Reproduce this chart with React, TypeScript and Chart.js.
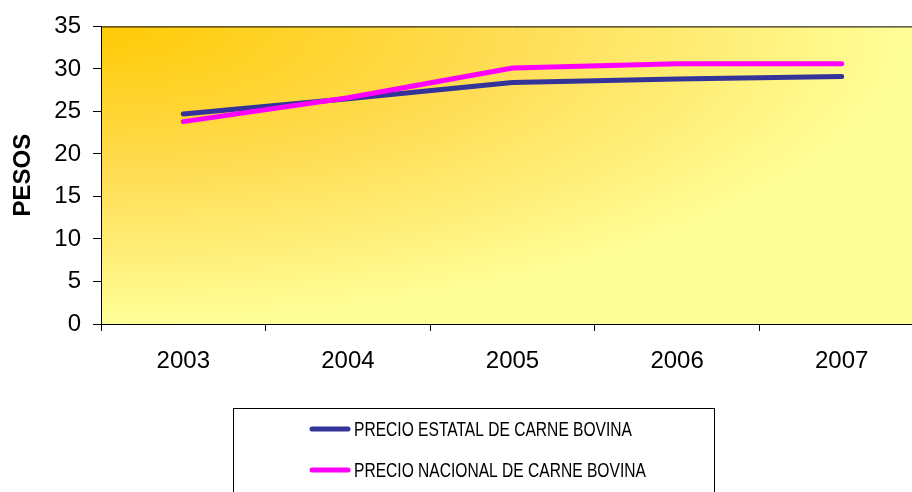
import React, { useEffect, useRef } from "react";
import { Chart, registerables } from "chart.js";

Chart.register(...registerables);

const years = ["2003", "2004", "2005", "2006", "2007"];
const estatal = [24.7, 26.5, 28.4, 28.8, 29.1];
const nacional = [23.8, 26.6, 30.1, 30.6, 30.6];
const labelEstatal = "PRECIO ESTATAL DE CARNE BOVINA";
const labelNacional = "PRECIO NACIONAL DE CARNE BOVINA";
const yTitle = "PESOS";

const FONT = "'Liberation Sans', Arial, sans-serif";

const bgPlugin = {
  id: "bgGradient",
  beforeDraw(chart: any) {
    const { ctx, chartArea } = chart;
    const { left, top, right, bottom } = chartArea;
    const rx = 820;
    const ry = 300;
    ctx.save();
    ctx.translate(left, top);
    ctx.scale(rx, ry);
    const g = ctx.createRadialGradient(0, 0, 0, 0, 0, 1);
    g.addColorStop(0, "#FFCA05");
    g.addColorStop(0.5, "#FFDD55");
    g.addColorStop(1, "#FFFF99");
    ctx.fillStyle = g;
    ctx.fillRect(0, 0, (right - left) / rx, (bottom - top) / ry);
    ctx.restore();
  },
  afterDatasetsDraw(chart: any) {
    const { ctx, chartArea } = chart;
    ctx.save();
    ctx.strokeStyle = "#000";
    ctx.lineWidth = 1;
    ctx.beginPath();
    ctx.moveTo(chartArea.left, chartArea.top + 0.5);
    ctx.lineTo(chartArea.right, chartArea.top + 0.5);
    ctx.lineTo(chartArea.right, chartArea.bottom);
    ctx.stroke();
    ctx.restore();
  },
};

const legendPlugin = {
  id: "boxLegend",
  afterDraw(chart: any) {
    const { ctx } = chart;
    const ds = chart.data.datasets;
    ctx.save();
    ctx.strokeStyle = "#000";
    ctx.lineWidth = 1;
    ctx.strokeRect(233.5, 408.5, 481, 200);
    ctx.font = "21px " + FONT;
    const natural = ctx.measureText(ds[0].label).width;
    const sx = 278 / natural;
    const rows = [429, 470];
    ds.forEach((d: any, i: number) => {
      const y = rows[i];
      ctx.strokeStyle = d.borderColor;
      ctx.lineWidth = 5;
      ctx.lineCap = "round";
      ctx.beginPath();
      ctx.moveTo(312, y);
      ctx.lineTo(348, y);
      ctx.stroke();
      ctx.save();
      ctx.translate(354, y + 1);
      ctx.scale(sx, 1);
      ctx.fillStyle = "#000";
      ctx.textBaseline = "middle";
      ctx.textAlign = "left";
      ctx.fillText(d.label, 0, 0);
      ctx.restore();
    });
    ctx.restore();
  },
};

export default function App() {
  const ref = useRef<HTMLCanvasElement>(null);
  useEffect(() => {
    if (!ref.current) return;
    const chart = new Chart(ref.current, {
      type: "line",
      data: {
        labels: years,
        datasets: [
          {
            label: labelEstatal,
            data: estatal,
            borderColor: "#333399",
            backgroundColor: "#333399",
            borderWidth: 5,
            pointRadius: 0,
            borderCapStyle: "round",
            borderJoinStyle: "round",
            tension: 0,
            order: 1,
          },
          {
            label: labelNacional,
            data: nacional,
            borderColor: "#FF00FF",
            backgroundColor: "#FF00FF",
            borderWidth: 5,
            pointRadius: 0,
            borderCapStyle: "round",
            borderJoinStyle: "round",
            tension: 0,
            order: 0,
          },
        ],
      },
      options: {
        responsive: false,
        animation: false,
        layout: { padding: { top: 26, left: 0, right: 0, bottom: 0 } },
        plugins: {
          legend: { display: false },
          tooltip: { enabled: false },
          title: { display: false },
        },
        scales: {
          x: {
            offset: true,
            grid: {
              offset: true,
              drawOnChartArea: false,
              tickLength: 7,
              color: "#000",
            },
            border: { display: true, color: "#000", width: 1 },
            ticks: {
              color: "#000",
              font: { family: FONT, size: 24 },
              padding: 16,
              maxRotation: 0,
            },
            afterFit(scale: any) {
              scale.height = 168;
            },
          },
          y: {
            min: 0,
            max: 35,
            ticks: {
              stepSize: 5,
              color: "#000",
              font: { family: FONT, size: 24 },
              padding: 12,
            },
            grid: {
              drawOnChartArea: false,
              tickLength: 8,
              color: "#000",
            },
            border: { display: true, color: "#000", width: 1 },
            title: {
              display: true,
              text: yTitle,
              color: "#000",
              font: { family: FONT, size: 24, weight: "bold" },
              padding: { top: 9, bottom: 0 },
            },
            afterFit(scale: any) {
              scale.width = 101;
            },
          },
        },
      },
      plugins: [bgPlugin, legendPlugin],
    });
    return () => chart.destroy();
  }, []);

  return (
    <div
      style={{
        position: "absolute",
        left: 0,
        top: 0,
        width: 912,
        height: 492,
        overflow: "hidden",
        background: "#fff",
      }}
    >
      <canvas ref={ref} width={924} height={492} style={{ display: "block" }} />
    </div>
  );
}
